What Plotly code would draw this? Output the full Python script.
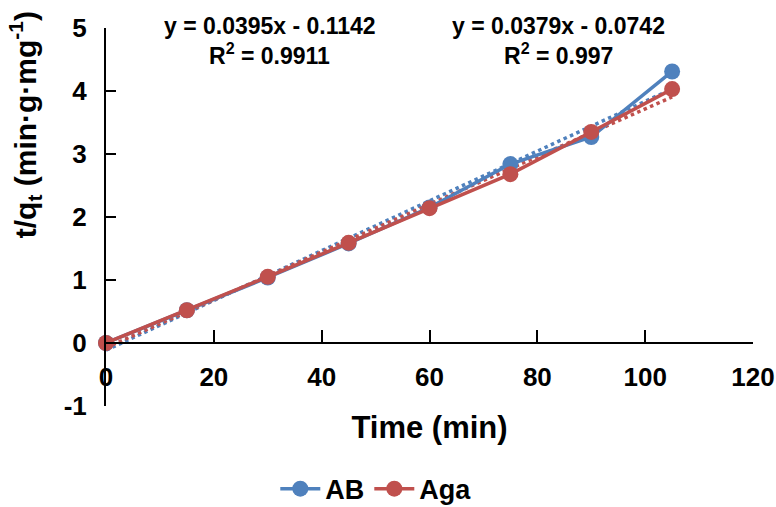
import plotly.graph_objects as go
import numpy as np

time_min = [0, 15, 30, 45, 60, 75, 90, 105]
ab_vals = [0.0, 0.52, 1.04, 1.58, 2.15, 2.84, 3.27, 4.31]
aga_vals = [0.0, 0.52, 1.05, 1.59, 2.14, 2.68, 3.35, 4.03]

ab_fit = (0.0395, -0.1142)
aga_fit = (0.0379, -0.0742)
ab_eq = ["y = 0.0395x - 0.1142", "R<sup>2</sup> = 0.9911"]
aga_eq = ["y = 0.0379x - 0.0742", "R<sup>2</sup> = 0.997"]

x_ticks = [0, 20, 40, 60, 80, 100, 120]
y_ticks = [-1, 0, 1, 2, 3, 4, 5]
y_tick_labels = ["-1", "0", "1", "2", "3", "4", "5"]

BLUE = "#4F81BD"
RED = "#C0504D"
FONT = "Liberation Sans, Arial, sans-serif"

fig = go.Figure()

fx = np.array([time_min[0], time_min[-1]], dtype=float)
fig.add_trace(go.Scatter(x=fx, y=ab_fit[0] * fx + ab_fit[1], mode="lines",
                         line=dict(color=BLUE, width=3.5, dash="dot"),
                         showlegend=False, hoverinfo="skip", cliponaxis=False))
fig.add_trace(go.Scatter(x=fx, y=aga_fit[0] * fx + aga_fit[1], mode="lines",
                         line=dict(color=RED, width=3.5, dash="dot"),
                         showlegend=False, hoverinfo="skip", cliponaxis=False))

fig.add_trace(go.Scatter(x=time_min, y=ab_vals, mode="lines+markers", name="AB",
                         line=dict(color=BLUE, width=3.5),
                         marker=dict(color=BLUE, size=16), cliponaxis=False))
fig.add_trace(go.Scatter(x=time_min, y=aga_vals, mode="lines+markers", name="Aga",
                         line=dict(color=RED, width=3.5),
                         marker=dict(color=RED, size=16), cliponaxis=False))

def add_eq(xc, lines):
    fig.add_annotation(x=xc, y=5.0, xref="x", yref="y", text=lines[0],
                       showarrow=False, yanchor="middle", yshift=2,
                       font=dict(family=FONT, size=23, color="black", weight="bold"))
    fig.add_annotation(x=xc, y=4.58, xref="x", yref="y", text=lines[1],
                       showarrow=False, yanchor="middle",
                       font=dict(family=FONT, size=23, color="black", weight="bold"))

add_eq(30.4, ab_eq)
add_eq(84.0, aga_eq)

fig.add_annotation(x=-0.125, y=0.743, xref="paper", yref="paper",
                   text="t/q<sub>t</sub> (min·g·mg<sup>-1</sup>)", textangle=-90,
                   showarrow=False, xanchor="center", yanchor="middle",
                   font=dict(family=FONT, size=30, color="black", weight="bold"))

fig.update_layout(
    width=776, height=507,
    margin=dict(l=106, r=23, t=28, b=101, autoexpand=False),
    paper_bgcolor="white", plot_bgcolor="white",
    font=dict(family=FONT, color="black"),
    showlegend=True,
    legend=dict(orientation="h", x=0.417, xanchor="center", y=-0.22, yanchor="middle",
                font=dict(family=FONT, size=27, color="black", weight="bold"),
                itemwidth=40, tracegroupgap=0),
    xaxis=dict(range=[0, 120], tickvals=x_ticks, showgrid=False, zeroline=False,
               showline=True, linecolor="black", linewidth=2,
               ticks="inside", ticklen=12, tickwidth=2, tickcolor="black",
               anchor="free", position=1/6, ticklabelstandoff=11, automargin=False,
               tickfont=dict(family=FONT, size=26, color="black", weight="bold"),
               title=dict(text="Time (min)", standoff=24,
                          font=dict(family=FONT, size=31, color="black", weight="bold"))),
    yaxis=dict(range=[-1, 5], tickvals=y_ticks, ticktext=y_tick_labels,
               showgrid=False, zeroline=False,
               showline=True, linecolor="black", linewidth=2,
               ticks="inside", ticklen=10, tickwidth=2, tickcolor="black",
               ticklabelstandoff=12, automargin=False,
               tickfont=dict(family=FONT, size=26, color="black", weight="bold")),
)

fig.write_html("out.html")
